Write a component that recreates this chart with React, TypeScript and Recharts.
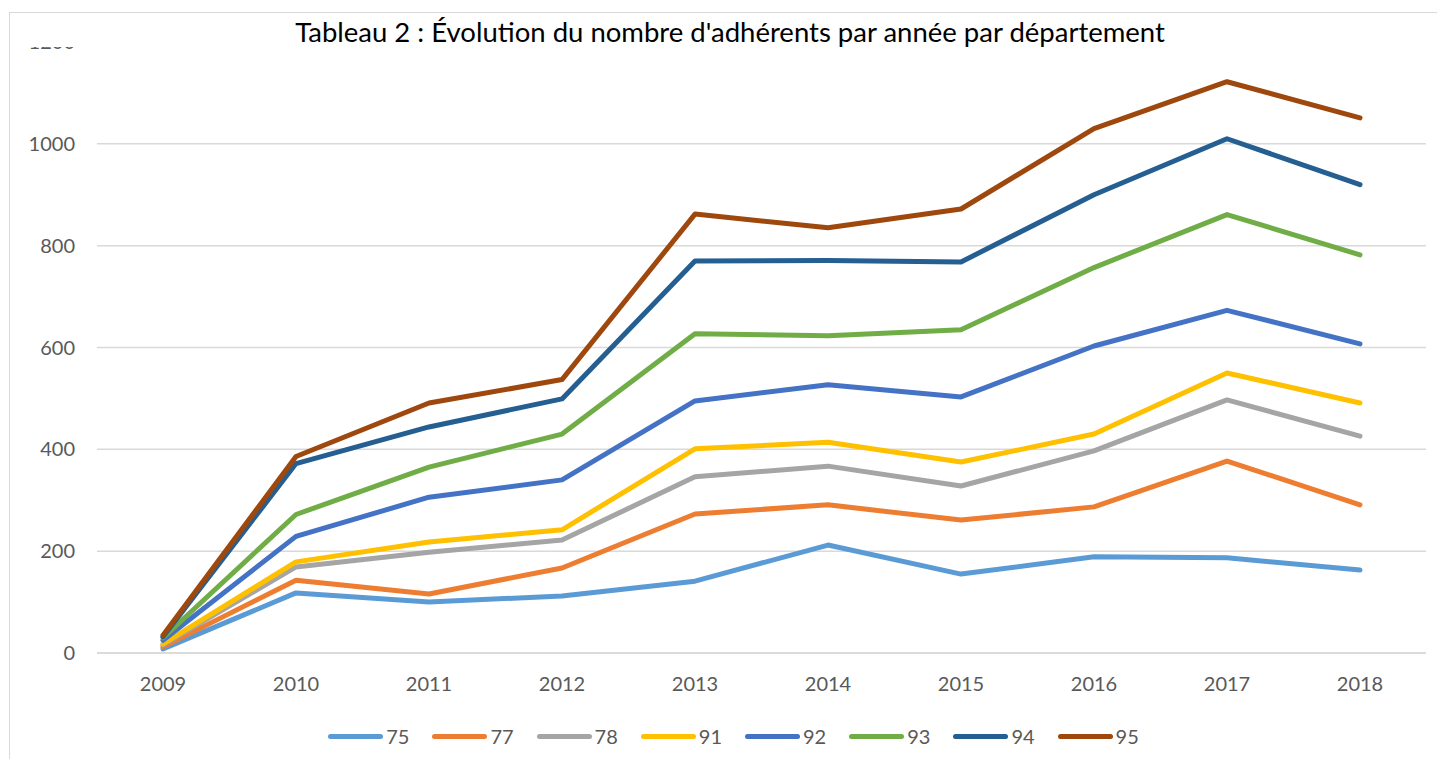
import { CartesianGrid, Line, LineChart, XAxis, YAxis } from 'recharts';

const years = ['2009', '2010', '2011', '2012', '2013', '2014', '2015', '2016', '2017', '2018'];

const dep75 = [8, 118, 100, 112, 141, 212, 155, 189, 187, 163];
const dep77 = [12, 143, 116, 167, 273, 291, 261, 287, 377, 291];
const dep78 = [16, 169, 198, 222, 346, 367, 328, 397, 497, 426];
const dep91 = [18, 179, 218, 242, 401, 414, 375, 430, 550, 491];
const dep92 = [25, 229, 306, 340, 495, 527, 503, 603, 673, 607];
const dep93 = [30, 272, 365, 430, 627, 623, 635, 757, 861, 782];
const dep94 = [32, 372, 444, 499, 770, 771, 768, 900, 1010, 920];
const dep95 = [35, 386, 491, 537, 862, 835, 872, 1030, 1122, 1051];

const yTicks = [0, 200, 400, 600, 800, 1000, 1200];

const series = [
  { key: '75', values: dep75, color: '#5B9BD5' },
  { key: '77', values: dep77, color: '#ED7D31' },
  { key: '78', values: dep78, color: '#A5A5A5' },
  { key: '91', values: dep91, color: '#FFC000' },
  { key: '92', values: dep92, color: '#4472C4' },
  { key: '93', values: dep93, color: '#70AD47' },
  { key: '94', values: dep94, color: '#255E91' },
  { key: '95', values: dep95, color: '#9E480E' },
];

const data = years.map((year, i) => {
  const row: Record<string, string | number> = { year };
  series.forEach((s) => {
    row[s.key] = s.values[i];
  });
  return row;
});

const font = 'Lato, "Open Sans", sans-serif';

export default function App() {
  return (
    <div style={{ position: 'relative', width: 1445, height: 767, margin: -8, background: '#fff', overflow: 'hidden', fontFamily: font }}>
      <div style={{ position: 'absolute', left: 9, top: 12, width: 1460, height: 780, border: '1px solid #D9D9D9' }} />
      <div style={{ position: 'absolute', left: 0, top: 0 }}>
        <LineChart width={1445} height={700} data={data} margin={{ top: 42, right: 19, bottom: 7, left: 0 }}>
          <CartesianGrid vertical={false} stroke="#D9D9D9" strokeWidth={1.5} />
          <XAxis
            dataKey="year"
            height={40}
            padding={{ left: 66, right: 66 }}
            axisLine={{ stroke: '#D9D9D9', strokeWidth: 1.5 }}
            tickLine={false}
            tickSize={0}
            tickMargin={24}
            tick={{ fill: '#595959', fontSize: 20, fontFamily: font }}
            interval={0}
          />
          <YAxis
            width={97}
            domain={[0, 1200]}
            ticks={yTicks}
            axisLine={false}
            tickLine={false}
            tickSize={0}
            tickMargin={22}
            tick={{ fill: '#595959', fontSize: 20, fontFamily: font }}
            interval={0}
          />
          {series.map((s) => (
            <Line
              key={s.key}
              type="linear"
              dataKey={s.key}
              stroke={s.color}
              strokeWidth={5}
              strokeLinecap="round"
              strokeLinejoin="round"
              dot={false}
              activeDot={false}
              isAnimationActive={false}
            />
          ))}
        </LineChart>
      </div>
      <div
        style={{
          position: 'absolute',
          left: 10,
          top: 13,
          width: 1440,
          height: 34,
          background: '#fff',
          textAlign: 'center',
          fontSize: 27.5,
          lineHeight: '38px',
          color: '#000',
        }}
      >
        Tableau 2 : Évolution du nombre d'adhérents par année par département
      </div>
      <div
        style={{
          position: 'absolute',
          left: 0,
          top: 724,
          width: 1445,
          display: 'flex',
          justifyContent: 'center',
          gap: 23,
          fontSize: 20,
          color: '#595959',
          paddingLeft: 22,
          boxSizing: 'border-box',
        }}
      >
        {series.map((s) => (
          <div key={s.key} style={{ display: 'flex', alignItems: 'center', gap: 3 }}>
            <div style={{ width: 55, height: 5, borderRadius: 3, background: s.color }} />
            <span>{s.key}</span>
          </div>
        ))}
      </div>
    </div>
  );
}
